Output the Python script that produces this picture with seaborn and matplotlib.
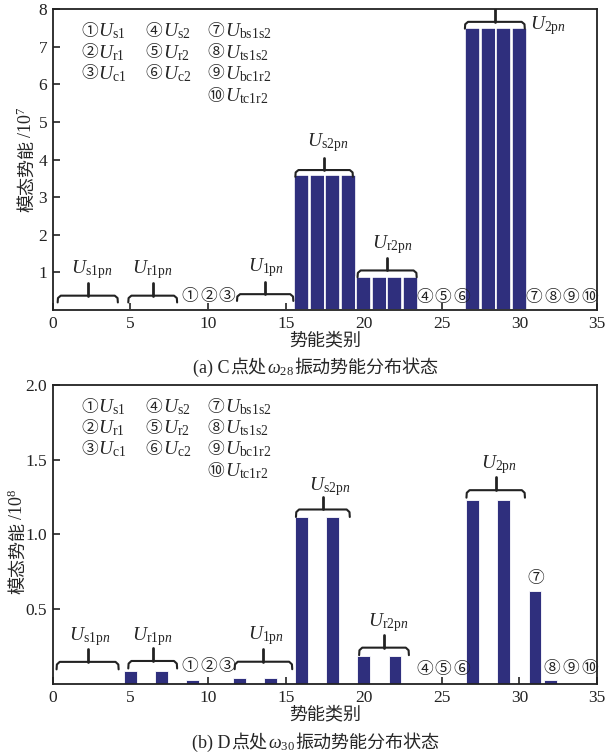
import numpy as np
import pandas as pd
import matplotlib
matplotlib.use('Agg')
import matplotlib.pyplot as plt
import seaborn as sns

# potential energy category index 1..34
categories = list(range(1, 35))

# (a) point C, omega_28, unit 1e7
energy_c = [0, 0, 0, 0, 0, 0, 0, 0, 0, 0, 0, 0, 0, 0, 0,
            3.6, 3.6, 3.6, 3.6,
            0.87, 0.87, 0.87, 0.87,
            0, 0, 0,
            7.5, 7.5, 7.5, 7.5,
            0, 0, 0, 0]

# (b) point D, omega_30, unit 1e8
energy_d = [0, 0, 0, 0, 0.085, 0, 0.085, 0, 0.03, 0.004, 0, 0.042, 0, 0.042, 0,
            1.115, 0, 1.115, 0,
            0.185, 0, 0.185, 0,
            0, 0, 0,
            1.228, 0, 1.228, 0,
            0.625, 0.03, 0, 0]

legend_items = [['①', r'$U_{\mathrm{s1}}$'], ['②', r'$U_{\mathrm{r1}}$'], ['③', r'$U_{\mathrm{c1}}$'],
                ['④', r'$U_{\mathrm{s2}}$'], ['⑤', r'$U_{\mathrm{r2}}$'], ['⑥', r'$U_{\mathrm{c2}}$'],
                ['⑦', r'$U_{\mathrm{bs1s2}}$'], ['⑧', r'$U_{\mathrm{ts1s2}}$'],
                ['⑨', r'$U_{\mathrm{bc1r2}}$'], ['⑩', r'$U_{\mathrm{tc1r2}}$']]

group_names = [r'$U_{\mathrm{s1p}n}$', r'$U_{\mathrm{r1p}n}$', r'$U_{\mathrm{1p}n}$',
               r'$U_{\mathrm{s2p}n}$', r'$U_{\mathrm{r2p}n}$', r'$U_{\mathrm{2p}n}$']

caption_a = ['(a) C', '点处', r'$\omega_{28}$', '振动势能分布状态']
caption_b = ['(b) D', '点处', r'$\omega_{30}$', '振动势能分布状态']
ylabel_a = ['模态势能', r'/10$^7$']
ylabel_b = ['模态势能', r'/10$^8$']

sns.set_style('white')
plt.rcParams['font.family'] = ['Liberation Serif', 'Noto Sans CJK SC']
plt.rcParams['mathtext.fontset'] = 'custom'
plt.rcParams['mathtext.rm'] = 'Liberation Serif'
plt.rcParams['mathtext.it'] = 'Liberation Serif:italic'
plt.rcParams['axes.unicode_minus'] = False

bar_color = '#2f2f7d'
cjk = ['Noto Sans CJK SC', 'DejaVu Sans']
W, H = 609, 756


def brace(ax, x0, x1, y, h, s):
    xc = (x0 + x1) / 2
    xs = [x0, x0 + 0.02, x0 + 0.2, x1 - 0.2, x1 - 0.02, x1]
    ys = [y - h, y - 0.35 * h, y, y, y - 0.35 * h, y - h]
    ax.plot(xs, ys, color='#222222', lw=1.5, solid_capstyle='round', zorder=4)
    ax.plot([xc, xc], [y, y + s], color='#222222', lw=2.0, zorder=4)


def style_axes(ax, ymax, yticks, yfmt):
    ax.set_xlim(0, 35)
    ax.set_ylim(0, ymax)
    ax.set_xticks(range(0, 36, 5))
    ax.set_xticklabels([str(v) for v in range(0, 36, 5)])
    ax.set_yticks(yticks)
    ax.set_yticklabels([yfmt.format(v) for v in yticks])
    ax.tick_params(direction='in', length=5, width=1.2, labelsize=12.5,
                   colors='#222222', top=False, right=False, bottom=True, left=True, pad=4)
    for sp in ax.spines.values():
        sp.set_linewidth(1.3)
        sp.set_color('#222222')
    ax.set_xlabel('势能类别', fontsize=13, family=cjk, fontweight='medium', labelpad=0)
    ax.set_ylabel('')
    for i, (num, lab) in enumerate(legend_items):
        col = i // 3 if i < 9 else 2
        row = i % 3 if i < 9 else 3
        xx = [0.052, 0.170, 0.285][col]
        yy = [0.925, 0.855, 0.785, 0.710][row]
        ax.text(xx, yy, num, transform=ax.transAxes, ha='left', va='center',
                fontsize=12, family=cjk)
        ax.text(xx + 0.032, yy, lab, transform=ax.transAxes, ha='left', va='center', fontsize=14)


def circled(ax, labels, xs, y):
    for lab, xx in zip(labels, xs):
        ax.text(xx, y, lab, ha='center', va='center', fontsize=12, family=cjk, color='#222222')


def chain(fig, pieces, x, y, vertical=False, weight='normal', gap=1.5):
    # x, y in pixels from bottom-left; pieces laid along the baseline, centred on (x, y)
    rot = 90 if vertical else 0
    texts = []
    for s in pieces:
        is_cjk = any('\u4e00' <= c <= '\u9fff' for c in s)
        fam = cjk if is_cjk else ['Liberation Serif']
        texts.append(fig.text(0, 0, s, fontsize=13, family=fam, rotation=rot,
                              fontweight=weight if is_cjk else 'normal',
                              rotation_mode='anchor', ha='left', va='baseline'))
    fig.canvas.draw()
    r = fig.canvas.get_renderer()
    sizes = [t.get_window_extent(r) for t in texts]
    lens = [(b.height if vertical else b.width) + gap for b in sizes]
    pos = (y if vertical else x) - sum(lens) / 2
    for t, L in zip(texts, lens):
        if vertical:
            t.set_position((x / W, pos / H))
        else:
            t.set_position((pos / W, y / H))
        pos += L


fig = plt.figure(figsize=(6.09, 7.56), dpi=100)

# ---- (a) ----
ax1 = fig.add_axes([0.0865, 0.590, 0.894, 0.398])
df_c = pd.DataFrame({'cat': categories, 'val': energy_c})
sns.barplot(data=df_c, x='cat', y='val', native_scale=True, width=0.96,
            color=bar_color, saturation=1, edgecolor='white', linewidth=1.2, ax=ax1)
style_axes(ax1, 8, list(range(1, 9)), '{:d}')
brace_a = [(0.32, 4.19, 0.38), (4.86, 8.0, 0.38), (11.85, 15.47, 0.42),
           (15.6, 19.3, 3.72), (19.6, 23.4, 1.05), (26.5, 30.35, 7.66)]
for (x0, x1, y) in brace_a:
    brace(ax1, x0, x1, y, 0.18, 0.33)
lab_a = [(2.5, 0.98, 'center'), (6.4, 0.98, 'center'), (13.7, 1.03, 'center'),
         (17.7, 4.35, 'center'), (21.8, 1.63, 'center'), (30.7, 7.45, 'left')]
for name, (xx, yy, ha) in zip(group_names, lab_a):
    ax1.text(xx, yy, name, ha=ha, va='baseline', fontsize=14)
circled(ax1, ['①', '②', '③'], [8.8, 10.0, 11.2], 0.35)
circled(ax1, ['④', '⑤', '⑥'], [23.9, 25.1, 26.3], 0.34)
circled(ax1, ['⑦', '⑧', '⑨', '⑩'], [30.95, 32.15, 33.3, 34.5], 0.34)

# ---- (b) ----
ax2 = fig.add_axes([0.0865, 0.095, 0.894, 0.396])
df_d = pd.DataFrame({'cat': categories, 'val': energy_d})
sns.barplot(data=df_d, x='cat', y='val', native_scale=True, width=0.82,
            color=bar_color, saturation=1, edgecolor='white', linewidth=0.6, ax=ax2)
style_axes(ax2, 2.0, [0.5, 1.0, 1.5, 2.0], '{:.1f}')
brace_b = [(0.25, 4.24, 0.149), (4.86, 8.0, 0.155), (11.7, 15.4, 0.15),
           (15.64, 19.1, 1.167), (19.7, 22.9, 0.244), (26.6, 30.36, 1.296)]
for (x0, x1, y) in brace_b:
    brace(ax2, x0, x1, y, 0.05, 0.085)
lab_b = [(2.4, 0.29, 'center'), (6.4, 0.29, 'center'), (13.7, 0.30, 'center'),
         (17.8, 1.295, 'center'), (21.6, 0.39, 'center'), (28.7, 1.444, 'center')]
for name, (xx, yy, ha) in zip(group_names, lab_b):
    ax2.text(xx, yy, name, ha=ha, va='baseline', fontsize=14)
circled(ax2, ['①', '②', '③'], [8.8, 10.0, 11.2], 0.118)
circled(ax2, ['④', '⑤', '⑥'], [23.9, 25.1, 26.3], 0.095)
circled(ax2, ['⑦'], [31.05], 0.707)
circled(ax2, ['⑧', '⑨', '⑩'], [32.1, 33.3, 34.5], 0.105)

# captions and y labels (CJK and math pieces set side by side)
chain(fig, caption_a, 316, H - 373, gap=0.5)
chain(fig, caption_b, 316, H - 748, gap=0.5)
chain(fig, ylabel_a, 32, H - 158, vertical=True, weight='medium', gap=2.5)
chain(fig, ylabel_b, 23, H - 540, vertical=True, weight='medium', gap=2.5)

fig.savefig('out.png', dpi=100)
